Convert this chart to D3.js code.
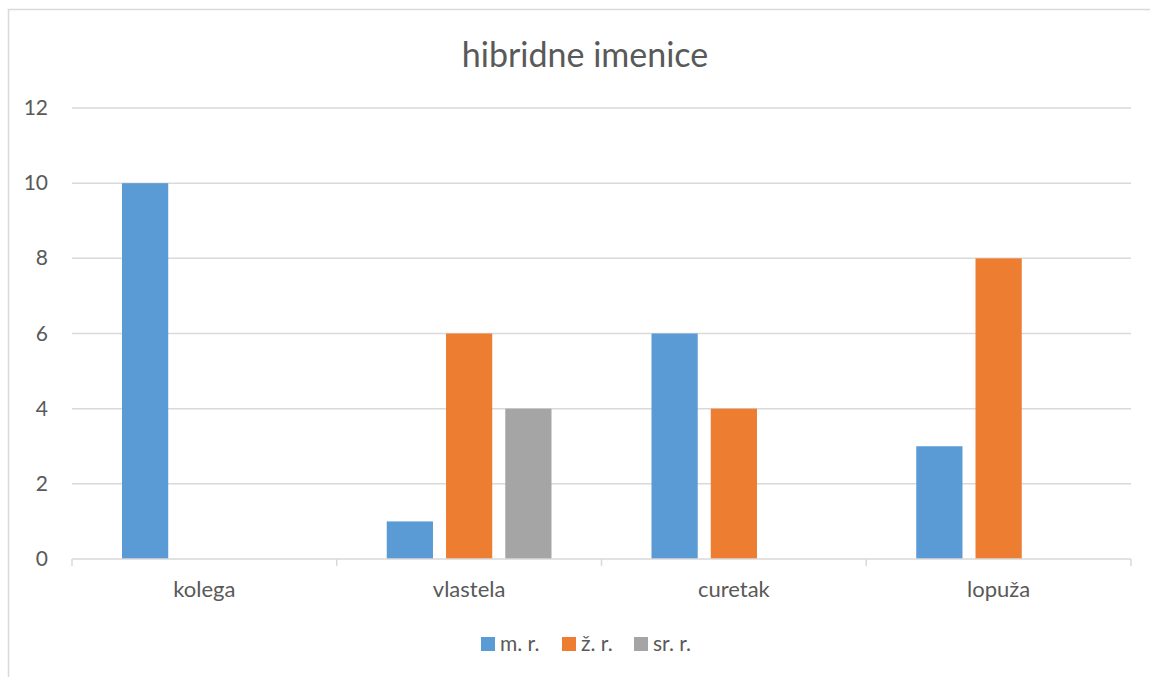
<!DOCTYPE html>
<html>
<head>
<meta charset="utf-8">
<script src="https://cdn.jsdelivr.net/npm/d3@7"></script>
<style>
  body { margin: 0; background: #fff; }
  text { font-family: Lato, "Open Sans", sans-serif; fill: #595959; }
</style>
</head>
<body>
<div id="chart"></div>
<script>
var categories = ["kolega", "vlastela", "curetak", "lopuža"];
var seriesNames = ["m. r.", "ž. r.", "sr. r."];
var seriesColors = ["#5b9bd5", "#ed7d31", "#a5a5a5"];
var mr = [10, 1, 6, 3];
var zr = [0, 6, 4, 8];
var srr = [0, 4, 0, 0];
var yTicks = [0, 2, 4, 6, 8, 10, 12];

var W = 1150, H = 677;
var plot = { left: 72, right: 1131, top: 108, bottom: 559 };

var svg = d3.select("#chart").append("svg")
  .attr("width", W)
  .attr("height", H);

// chart border (cut off at right and bottom)
svg.append("rect")
  .attr("x", 8.5).attr("y", 9.5)
  .attr("width", 1160).attr("height", 700)
  .attr("fill", "#fff")
  .attr("stroke", "#d9d9d9")
  .attr("stroke-width", 1.5);

var x0 = d3.scaleBand()
  .domain(categories)
  .range([plot.left, plot.right])
  .paddingInner(0).paddingOuter(0);

var x1 = d3.scaleBand()
  .domain(seriesNames)
  .range([50, x0.bandwidth() - 50])
  .paddingInner(0.22).paddingOuter(0);

var y = d3.scaleLinear()
  .domain([0, 12])
  .range([plot.bottom, plot.top]);

// gridlines
svg.append("g").selectAll("line")
  .data(yTicks.filter(function (t) { return t > 0; }))
  .enter().append("line")
  .attr("x1", plot.left).attr("x2", plot.right)
  .attr("y1", function (t) { return y(t); })
  .attr("y2", function (t) { return y(t); })
  .attr("stroke", "#d9d9d9")
  .attr("stroke-width", 1.5);

// y labels
svg.append("g").selectAll("text")
  .data(yTicks)
  .enter().append("text")
  .attr("x", 48)
  .attr("y", function (t) { return y(t) + 7; })
  .attr("text-anchor", "end")
  .attr("font-size", "21px")
  .text(function (t) { return t; });

// bars
var table = categories.map(function (c, i) {
  return { cat: c, values: [mr[i], zr[i], srr[i]] };
});

var groups = svg.append("g").selectAll("g")
  .data(table)
  .enter().append("g")
  .attr("transform", function (d) { return "translate(" + x0(d.cat) + ",0)"; });

groups.selectAll("rect")
  .data(function (d) {
    return d.values.map(function (v, j) { return { s: seriesNames[j], v: v, c: seriesColors[j] }; });
  })
  .enter().append("rect")
  .attr("x", function (d) { return x1(d.s); })
  .attr("width", x1.bandwidth())
  .attr("y", function (d) { return y(d.v); })
  .attr("height", function (d) { return y(0) - y(d.v); })
  .attr("fill", function (d) { return d.c; });

// x axis
var xAxis = svg.append("g");
xAxis.append("line")
  .attr("x1", plot.left).attr("x2", plot.right)
  .attr("y1", plot.bottom).attr("y2", plot.bottom)
  .attr("stroke", "#d9d9d9")
  .attr("stroke-width", 1.5);

var tickPos = categories.map(function (c) { return x0(c); }).concat([plot.right]);
xAxis.selectAll("line.tick")
  .data(tickPos)
  .enter().append("line")
  .attr("class", "tick")
  .attr("x1", function (p) { return p; }).attr("x2", function (p) { return p; })
  .attr("y1", plot.bottom).attr("y2", plot.bottom + 7)
  .attr("stroke", "#d9d9d9")
  .attr("stroke-width", 1.5);

xAxis.selectAll("text")
  .data(categories)
  .enter().append("text")
  .attr("x", function (c) { return x0(c) + x0.bandwidth() / 2; })
  .attr("y", 597)
  .attr("text-anchor", "middle")
  .attr("font-size", "22px")
  .text(function (c) { return c; });

// title
svg.append("text")
  .attr("x", 585)
  .attr("y", 67)
  .attr("text-anchor", "middle")
  .attr("font-size", "34px")
  .text("hibridne imenice");

// legend
var legendX = [481, 562, 634];
var legend = svg.append("g").selectAll("g")
  .data(seriesNames)
  .enter().append("g")
  .attr("transform", function (d, i) { return "translate(" + legendX[i] + ",637)"; });

legend.append("rect")
  .attr("width", 14).attr("height", 14)
  .attr("fill", function (d, i) { return seriesColors[i]; });

legend.append("text")
  .attr("x", 19)
  .attr("y", 14)
  .attr("font-size", "21px")
  .text(function (d) { return d; });
</script>
</body>
</html>
